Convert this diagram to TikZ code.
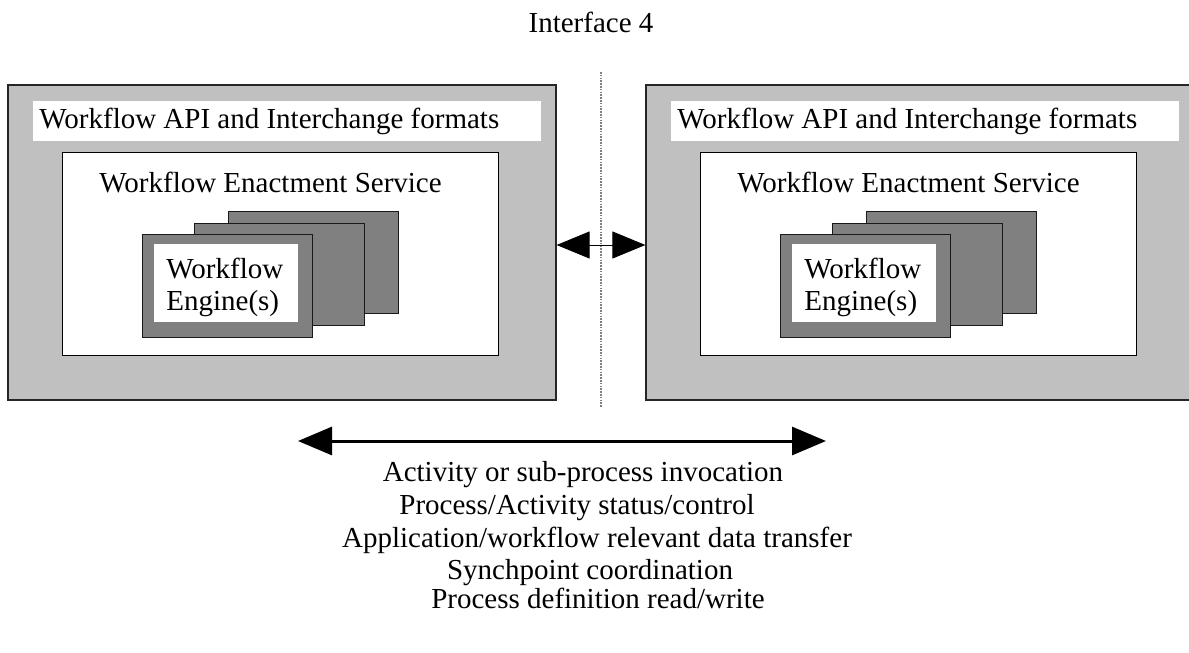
\documentclass[tikz,border=0pt]{standalone}
\usepackage{fontspec}
\setmainfont{Liberation Serif}
\usetikzlibrary{calc,arrows.meta,fit}

\definecolor{framegray}{RGB}{192,192,192}
\definecolor{cardgray}{RGB}{128,128,128}

\begin{document}
\begin{tikzpicture} [x=0.5pt,y=-0.5pt,{framebox/.style={rectangle,draw=black!85,fill=framegray,line width=0.6pt,inner sep=0pt}},{titlebar/.style={rectangle,fill=white,inner sep=0pt}},{servicebox/.style={rectangle,draw=black,fill=white,line width=0.5pt,inner sep=0pt}},{card/.style={rectangle,draw=black!90,fill=cardgray,line width=0.5pt,inner sep=0pt}},{enginebox/.style={rectangle,fill=white,inner sep=0pt}},{label/.style={inner sep=0pt,font=\fontsize{14.5}{15.5}\selectfont}},{ifline/.style={gray,line width=0.6pt,dash pattern=on 0.8pt off 0.6pt}}]
	\useasboundingbox (0,0) rectangle (1189,653);
	%%outer frames
	\node [framebox,fit={(8,85) (556,400)}] (leftframe) {};
	\node [framebox,fit={(646,85) (1200,400)}] (rightframe) {};
	%%interface line
	\coordinate (ifa) at (601,72);
	\coordinate (ifb) at (601,407);
	\draw [ifline] (ifa) -- (ifb);
	\node [label] (iface) at (591,22) {Interface 4};
	%%both sides
	\foreach \s/\n in {0/l,638/r}{
		\node [titlebar,fit={(33+\s,101) (541+\s,141)}] (title\n) {};
		\node [label,anchor=west] (titletxt\n) at (39+\s,121) {Workflow API and Interchange formats};
		\node [servicebox,fit={(62+\s,152) (498+\s,355)}] (service\n) {};
		\node [label,anchor=west] (servicetxt\n) at (99+\s,183) {Workflow Enactment Service};
		%%stack of engines
		\node [card,fit={(228+\s,211) (398+\s,313)}] (cardc\n) {};
		\node [card,fit={(194+\s,223) (364+\s,325)}] (cardb\n) {};
		\node [card,fit={(142+\s,234) (312+\s,337)}] (carda\n) {};
		\node [enginebox,fit={(154+\s,244) (298+\s,322)}] (engine\n) {};
		\node [label,anchor=west,align=left,font=\fontsize{14.5}{16}\selectfont] (enginetxt\n) at (166+\s,287) {Workflow\\Engine(s)};
	}
	%%interface arrows
	\coordinate (mid) at (0,245);
	\draw [{Triangle[length=16.5pt,width=13.5pt]}-{Triangle[length=16.5pt,width=13.5pt]},line width=0.5pt] (leftframe.east |- mid) -- (rightframe.west |- mid);
	\coordinate (ba) at (298,441);
	\coordinate (bb) at (826,441);
	\draw [{Triangle[length=17pt,width=14pt]}-{Triangle[length=17pt,width=14pt]},line width=1.5pt] (ba) -- (bb);
	%%functions
	\node [label] (fa) at (583,475) {Activity or sub-process invocation};
	\node [label] (fb) at (577,508) {Process/Activity status/control};
	\node [label] (fc) at (597,540) {Application/workflow relevant data transfer};
	\node [label] (fd) at (590,573) {Synchpoint coordination};
	\node [label] (fe) at (598,598) {Process definition read/write};
\end{tikzpicture}
\end{document}
